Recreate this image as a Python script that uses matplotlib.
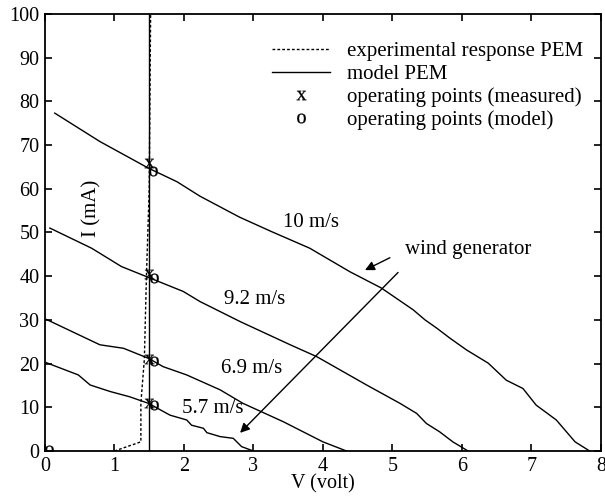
import numpy as np
import matplotlib
matplotlib.use("Agg")
import matplotlib.pyplot as plt
from matplotlib.lines import Line2D

plt.rcParams['font.family'] = ['Liberation Serif', 'DejaVu Serif']
plt.rcParams['mathtext.fontset'] = 'custom'
plt.rcParams['mathtext.rm'] = 'Liberation Serif'

# model curves, one per wind speed (V in volt, I in mA)
v_10 = [0.14, 0.79, 1.49, 1.90, 2.23, 2.80, 3.26, 3.81, 4.39, 4.84, 5.30, 5.47, 5.64, 5.83, 6.07, 6.38, 6.64, 6.88, 7.07, 7.36, 7.63, 7.84]
i_10 = [77.3, 70.8, 64.7, 61.6, 58.3, 53.5, 50.2, 46.4, 41.0, 37.3, 32.3, 30.0, 28.1, 25.8, 23.1, 20.1, 16.2, 14.3, 10.5, 7.1, 2.1, 0.0]

v_92 = [0.07, 0.67, 1.10, 1.46, 1.99, 2.23, 2.81, 3.53, 3.91, 4.63, 5.11, 5.35, 5.49, 5.68, 5.87, 6.09]
i_92 = [51.0, 46.4, 42.2, 39.9, 36.5, 34.2, 29.6, 24.3, 21.6, 15.1, 10.9, 8.6, 6.3, 4.4, 2.1, 0.0]

v_69 = [0.02, 0.79, 1.13, 1.49, 1.70, 2.04, 2.52, 2.85, 3.43, 4.00, 4.34]
i_69 = [30.1, 24.3, 23.5, 21.2, 19.3, 17.4, 14.0, 10.9, 6.7, 2.1, 0.0]

v_57 = [0.02, 0.48, 0.65, 0.94, 1.22, 1.49, 1.80, 2.04, 2.11, 2.28, 2.33, 2.52, 2.71, 2.83, 3.00]
i_57 = [20.2, 17.4, 15.1, 13.6, 12.4, 10.9, 8.2, 7.1, 5.9, 5.2, 4.2, 3.3, 2.9, 1.0, 0.0]

# PEM curves
v_pem_exp = [1.00, 1.38, 1.38, 1.43, 1.46, 1.50, 1.52]
i_pem_exp = [0.0, 2.1, 11.0, 21.0, 40.0, 60.0, 100.0]
v_pem_model = [1.50, 1.50]
i_pem_model = [0.0, 100.0]

# operating points
v_meas = [1.50, 1.50, 1.50, 1.50]
i_meas = [66.0, 40.5, 21.0, 11.0]
v_mod = [1.56, 1.57, 1.57, 1.57, 0.06]
i_mod = [64.0, 39.5, 20.5, 10.5, 0.2]

speed_labels = ['10 m/s', '9.2 m/s', '6.9 m/s', '5.7 m/s']
label_v = [3.42, 2.57, 2.53, 1.97]
label_i = [52.2, 34.6, 18.8, 9.8]

fig = plt.figure(figsize=(6.05, 4.96), dpi=100)
ax = fig.add_axes([0.0744, 0.0907, 0.9186, 0.8813])

for vv, ii in [(v_10, i_10), (v_92, i_92), (v_69, i_69), (v_57, i_57)]:
    ax.plot(vv, ii, color='black', lw=1.0)

ax.plot(v_pem_model, i_pem_model, color='black', lw=1.0)
ax.plot(v_pem_exp, i_pem_exp, color='black', lw=1.0, ls=(0, (2, 1.5)))

mk = dict(ls='none', ms=7, mew=0.2, color='black')
ax.plot(v_meas, i_meas, marker=r'$\mathrm{x}$', **mk)
ax.plot(v_mod, i_mod, marker=r'$\mathrm{o}$', **mk)

for lab, lv, li in zip(speed_labels, label_v, label_i):
    ax.text(lv, li, lab, fontsize=15, va='center', ha='left')

ax.text(5.18, 46.0, 'wind generator', fontsize=15, va='center', ha='left')
ax.annotate('', xy=(4.57, 41.1), xytext=(5.0, 44.5),
            arrowprops=dict(arrowstyle='-|>', color='black', lw=1.0, mutation_scale=14))
ax.annotate('', xy=(2.78, 3.7), xytext=(5.11, 41.3),
            arrowprops=dict(arrowstyle='-|>', color='black', lw=1.0, mutation_scale=14))

ax.text(0.67, 55.4, 'I (mA)', fontsize=15, rotation=90, va='center', ha='center')
ax.set_xlabel('V (volt)', fontsize=14.5, labelpad=-1)

ax.set_xlim(0, 8)
ax.set_ylim(0, 100)
ax.set_xticks(range(0, 9))
ax.set_yticks(range(0, 101, 10))
ax.tick_params(direction='in', top=True, right=True, length=5, width=1.2,
               labelsize=14.5, pad=4)
for sp in ax.spines.values():
    sp.set_linewidth(1.3)

handles = [
    Line2D([], [], color='black', lw=1.0, ls=(0, (2, 1.5))),
    Line2D([], [], color='black', lw=1.0),
    Line2D([], [], marker=r'$\mathrm{x}$', **mk),
    Line2D([], [], marker=r'$\mathrm{o}$', **mk),
]
labels = ['experimental response PEM', 'model PEM',
          'operating points (measured)', 'operating points (model)']
ax.legend(handles, labels, loc='upper right', bbox_to_anchor=(0.99, 0.965),
          frameon=False, fontsize=15, handlelength=2.8, handletextpad=0.8,
          labelspacing=0.16, borderaxespad=0.2)

fig.savefig('out.png', dpi=100)
